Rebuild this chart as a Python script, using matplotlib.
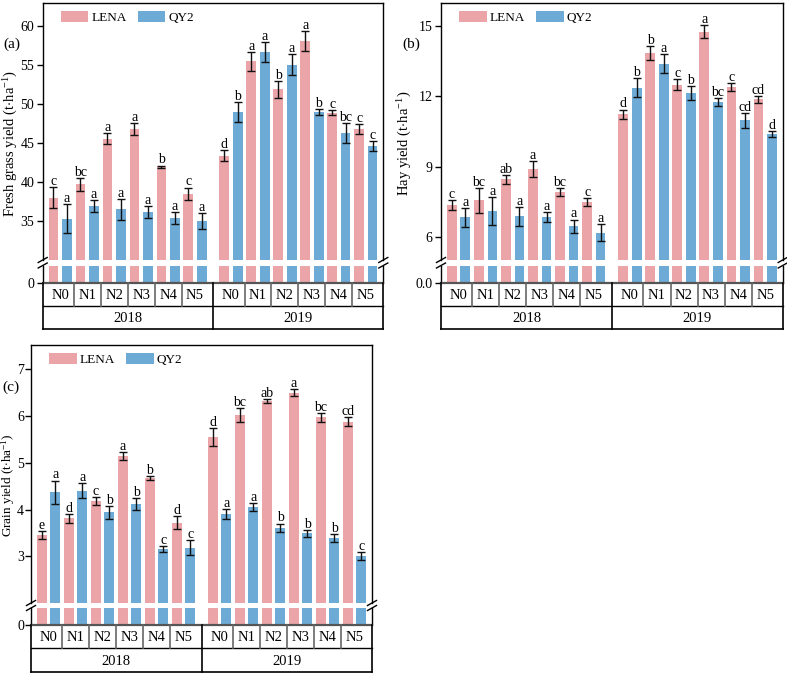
import matplotlib
matplotlib.use('Agg')
import matplotlib.pyplot as plt
import numpy as np

plt.rcParams['font.family'] = ['Liberation Serif', 'DejaVu Serif']
plt.rcParams['mathtext.fontset'] = 'custom'
plt.rcParams['mathtext.rm'] = 'Liberation Serif'
plt.rcParams['mathtext.it'] = 'Liberation Serif:italic'

# ---------------- data ----------------
treatments = ['N0', 'N1', 'N2', 'N3', 'N4', 'N5']
years = ['2018', '2019']
cultivars = ['LENA', 'QY2']

fresh_lena = [38.0, 39.7, 45.6, 46.8, 42.0, 38.5, 43.4, 55.5, 51.9, 58.1, 48.9, 46.8]
fresh_lena_err = [1.35, 0.85, 0.75, 0.8, 0.13, 0.8, 0.75, 1.2, 1.07, 1.3, 0.32, 0.64]
fresh_qy2 = [35.3, 36.9, 36.5, 36.2, 35.4, 35.0, 49.0, 56.7, 55.1, 49.0, 46.3, 44.6]
fresh_qy2_err = [1.85, 0.8, 1.3, 0.75, 0.8, 1.0, 1.3, 1.3, 1.3, 0.4, 1.3, 0.64]
fresh_lena_sig = ['c', 'bc', 'a', 'a', 'b', 'c', 'd', 'a', 'b', 'a', 'c', 'c']
fresh_qy2_sig = ['a', 'a', 'a', 'a', 'a', 'a', 'b', 'a', 'a', 'b', 'bc', 'c']

hay_lena = [7.34, 7.55, 8.45, 8.9, 7.92, 7.48, 11.23, 13.86, 12.51, 14.77, 12.41, 11.87]
hay_lena_err = [0.22, 0.53, 0.18, 0.33, 0.17, 0.16, 0.21, 0.28, 0.25, 0.27, 0.16, 0.16]
hay_qy2 = [6.82, 7.1, 6.87, 6.84, 6.45, 6.16, 12.37, 13.41, 12.14, 11.77, 10.98, 10.39]
hay_qy2_err = [0.41, 0.6, 0.4, 0.2, 0.28, 0.36, 0.41, 0.4, 0.3, 0.16, 0.32, 0.14]
hay_lena_sig = ['c', 'bc', 'ab', 'a', 'bc', 'c', 'd', 'b', 'c', 'a', 'c', 'cd']
hay_qy2_sig = ['a', 'a', 'a', 'a', 'a', 'a', 'b', 'a', 'b', 'bc', 'cd', 'd']

grain_lena = [3.45, 3.81, 4.19, 5.15, 4.68, 3.72, 5.55, 6.02, 6.32, 6.5, 5.97, 5.88]
grain_lena_err = [0.08, 0.1, 0.085, 0.08, 0.04, 0.135, 0.2, 0.15, 0.04, 0.08, 0.1, 0.1]
grain_qy2 = [4.37, 4.40, 3.94, 4.12, 3.16, 3.18, 3.91, 4.05, 3.61, 3.49, 3.39, 3.0]
grain_qy2_err = [0.25, 0.16, 0.135, 0.135, 0.06, 0.16, 0.11, 0.09, 0.09, 0.08, 0.08, 0.09]
grain_lena_sig = ['e', 'd', 'c', 'a', 'b', 'd', 'd', 'bc', 'ab', 'a', 'bc', 'cd']
grain_qy2_sig = ['a', 'a', 'b', 'b', 'c', 'c', 'a', 'a', 'b', 'b', 'b', 'c']

PINK = '#EBA5A9'
BLUE = '#6DABD6'

W, H = 787, 674
fig = plt.figure(figsize=(W / 100, H / 100), dpi=100)


def box(x0, y0, x1, y1):
    return [x0 / W, 1 - y1 / H, (x1 - x0) / W, (y1 - y0) / H]


pos = np.concatenate([np.arange(6), np.arange(6) + 6 + 1 / 3])
XLIM = (-0.65, 11.98)
OFF = 0.25
BW = 0.36


def panel(x0, x1, ytop, ybrk, ybrk2, yzero, yrow, ybot,
          lena, lena_err, qy2, qy2_err, lsig, qsig,
          ylim, yticks, zero_label, ylabel, plabel, plabel_xy, ylabel_x,
          ylabel_fs=10.5, tpad=2):
    ax = fig.add_axes(box(x0, ytop, x1, ybrk))
    axb = fig.add_axes(box(x0, ybrk2, x1, yzero))
    axt = fig.add_axes(box(x0, yzero, x1, ybot))

    ek = dict(elinewidth=1, capsize=3, capthick=1, ecolor='#111111')
    b1 = ax.bar(pos - OFF, lena, BW, yerr=lena_err, color=PINK, error_kw=ek, label=cultivars[0])
    b2 = ax.bar(pos + OFF, qy2, BW, yerr=qy2_err, color=BLUE, error_kw=ek, label=cultivars[1])
    axb.bar(pos - OFF, lena, BW, color=PINK)
    axb.bar(pos + OFF, qy2, BW, color=BLUE)

    for xs, vals, errs, sigs in ((pos - OFF, lena, lena_err, lsig), (pos + OFF, qy2, qy2_err, qsig)):
        for xx, v, e, s in zip(xs, vals, errs, sigs):
            ax.annotate(s, (xx, v + e), xytext=(0, 1.5), textcoords='offset points',
                        ha='center', va='baseline', fontsize=10)

    for a in (ax, axb):
        a.set_xlim(*XLIM)
        a.tick_params(axis='x', bottom=False, labelbottom=False)
        a.tick_params(axis='y', direction='out', length=4, width=1, labelsize=10, pad=tpad)
        for sp in a.spines.values():
            sp.set_linewidth(1)
    ax.set_ylim(*ylim)
    ax.set_yticks(yticks)
    ax.spines['bottom'].set_visible(False)
    axb.set_ylim(0, 1)
    axb.set_yticks([0])
    axb.set_yticklabels([zero_label])
    axb.spines['top'].set_visible(False)
    axb.spines['bottom'].set_color('#555555')
    axb.spines['bottom'].set_linewidth(1.6)

    # break marks
    wpx = x1 - x0
    dx = 4.5 / wpx
    hu = ybrk - ytop
    hl = yzero - ybrk2
    for xe in (0, 1):
        ax.plot([xe - dx, xe + dx], [-2.5 / hu, 2.5 / hu], transform=ax.transAxes,
                color='black', lw=1, clip_on=False)
        axb.plot([xe - dx, xe + dx], [1 - 2.5 / hl, 1 + 2.5 / hl], transform=axb.transAxes,
                 color='black', lw=1, clip_on=False)

    ax.legend(handles=[b1, b2], loc='center left', frameon=False, ncol=2,
              bbox_to_anchor=(18 / wpx, 1 - 14.3 / hu), borderpad=0, borderaxespad=0,
              handlelength=2.1, handleheight=1.0, handletextpad=0.25,
              columnspacing=0.8, fontsize=9.5)

    # category table
    axt.set_xlim(*XLIM)
    axt.set_ylim(2, 0)
    axt.axis('off')
    ysep = 5 + 2 / 3
    axt.plot([XLIM[0], XLIM[1]], [1, 1], color='black', lw=1, clip_on=False)
    axt.plot([XLIM[0], XLIM[1]], [2, 2], color='black', lw=1.2, clip_on=False)
    axt.plot([XLIM[0], XLIM[0]], [0, 2], color='black', lw=1.2, clip_on=False)
    axt.plot([XLIM[1], XLIM[1]], [0, 2], color='black', lw=1.2, clip_on=False)
    axt.plot([ysep, ysep], [0, 2], color='black', lw=1.2, clip_on=False)
    for p in list(pos[:5] + 0.5) + list(pos[6:11] + 0.5):
        axt.plot([p, p], [0, 1], color='#666666', lw=1.2, clip_on=False)
    for p, t in zip(pos, treatments * 2):
        axt.text(p, 0.55, t, ha='center', va='center', fontsize=10.5)
    axt.text((XLIM[0] + ysep) / 2, 1.55, years[0], ha='center', va='center', fontsize=10.5)
    axt.text((XLIM[1] + ysep) / 2, 1.55, years[1], ha='center', va='center', fontsize=10.5)

    fig.text(plabel_xy[0] / W, 1 - plabel_xy[1] / H, plabel, ha='center', va='center', fontsize=11)
    fig.text(ylabel_x / W, 1 - ((ytop + yzero) / 2) / H, ylabel, rotation=90,
             ha='center', va='center', fontsize=ylabel_fs)


unit = r'(t$\cdot$ha$^{\mathregular{-1}}$)'

panel(42.7, 383.3, 3, 260, 265.5, 283, 305, 329,
      fresh_lena, fresh_lena_err, fresh_qy2, fresh_qy2_err, fresh_lena_sig, fresh_qy2_sig,
      (30, 63), [35, 40, 45, 50, 55, 60], '0', 'Fresh grass yield ' + unit, '(a)', (11.5, 44), 11)

panel(441, 782.7, 3, 260, 265.5, 283, 305, 329,
      hay_lena, hay_lena_err, hay_qy2, hay_qy2_err, hay_lena_sig, hay_qy2_sig,
      (5, 16), [6, 9, 12, 15], '0.0', 'Hay yield ' + unit, '(b)', (411, 44), 405)

panel(31, 372, 345, 603, 608, 625, 648.3, 671.7,
      grain_lena, grain_lena_err, grain_qy2, grain_qy2_err, grain_lena_sig, grain_qy2_sig,
      (2, 7.52), [3, 4, 5, 6, 7], '0', 'Grain yield ' + unit, '(c)', (10.5, 387), 8.2, 9.5, 1)

fig.savefig('out.png', dpi=100)
